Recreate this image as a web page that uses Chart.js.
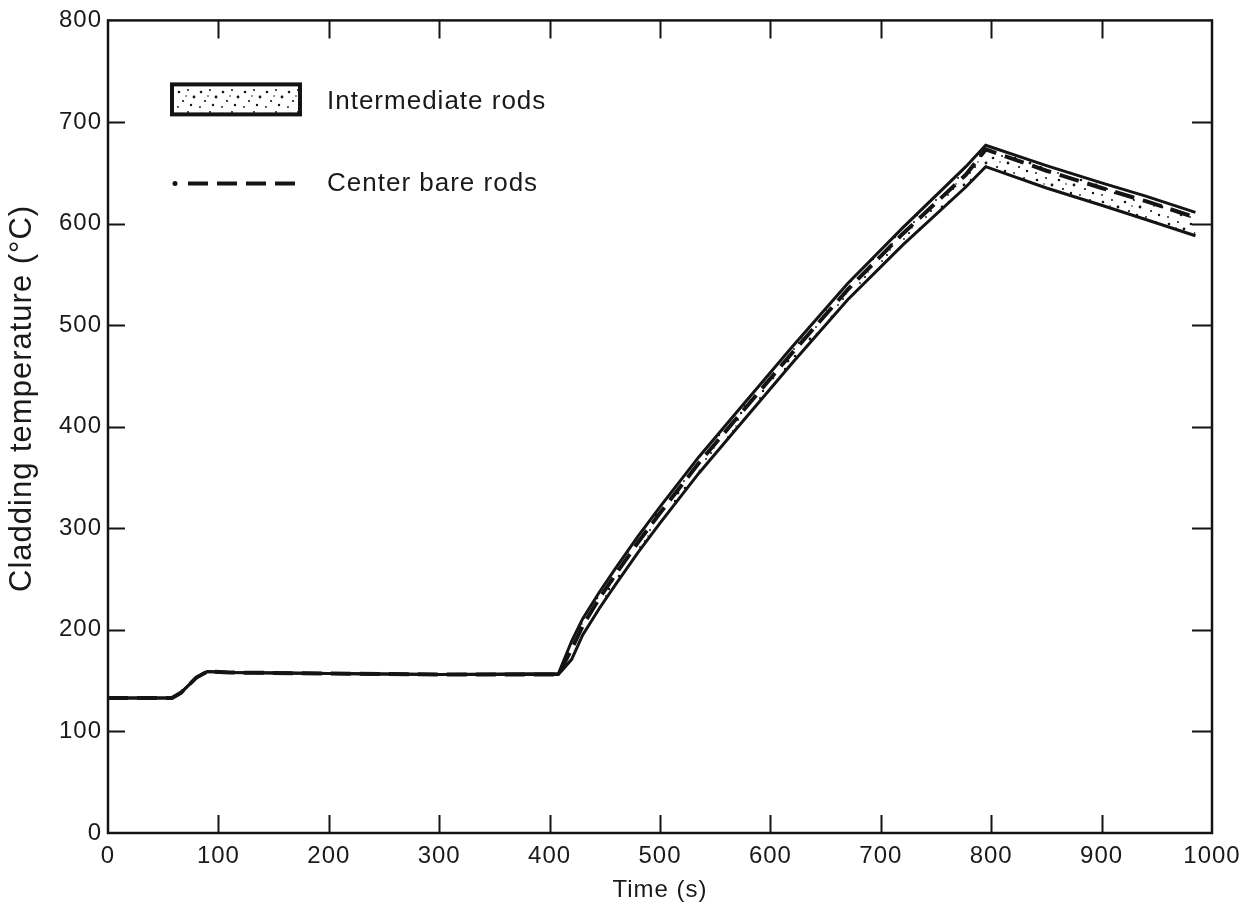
<!DOCTYPE html>
<html>
<head>
<meta charset="utf-8">
<script src="https://cdn.jsdelivr.net/npm/chart.js@4"></script>
<style>
  html, body { margin: 0; padding: 0; background: #ffffff; }
  #wrap { width: 1254px; height: 916px; }
</style>
</head>
<body>
<div id="wrap"><canvas id="chart" width="1254" height="916"></canvas></div>
<script>
// Cladding temperature history (°C) against time (s)
const timeSeconds = [0, 58, 66, 80, 90, 110, 200, 300, 408, 420, 430, 445, 460, 480, 500, 535, 570, 620, 670, 720, 777, 795, 850, 900, 940, 985];
const intermediateUpper = [133, 133, 138, 153, 159, 158, 157, 156, 157, 189, 211, 237, 261, 292, 321, 370, 415, 479, 541, 596, 656, 677, 657, 640, 627, 611];
const intermediateLower = [133, 133, 138, 153, 159, 158, 157, 156, 156, 171, 195, 221, 245, 276, 305, 354, 399, 463, 525, 579, 636, 656, 635, 618, 604, 588];
const centerBareRods   = [133, 133, 138, 153, 159, 158, 157, 156, 156, 181, 204, 231, 255, 286, 315, 364, 409, 473, 535, 590, 648, 673, 652, 635, 622, 606];

const seriesLabels = ['Intermediate rods', 'Center bare rods'];
const xTickValues = [0, 100, 200, 300, 400, 500, 600, 700, 800, 900, 1000];
const yTickValues = [0, 100, 200, 300, 400, 500, 600, 700, 800];
const axisTitles = { x: 'Time (s)', y: 'Cladding temperature (°C)' };

const INK = '#141414';
const TEXT = '#1a1a1a';
const FONT = "'Liberation Sans', Arial, sans-serif";

// Stippled fill used for the intermediate-rod band
function makeStipple() {
  const c = document.createElement('canvas');
  c.width = 22; c.height = 22;
  const g = c.getContext('2d');
  g.fillStyle = '#ffffff';
  g.fillRect(0, 0, 22, 22);
  g.fillStyle = INK;
  const dots = [[3, 4, 1.3], [12, 2, 1.0], [18, 9, 1.4], [7, 13, 1.1], [15, 17, 1.2], [2, 19, 0.9], [10, 8, 0.8]];
  dots.forEach(([x, y, r]) => { g.beginPath(); g.arc(x, y, r, 0, Math.PI * 2); g.fill(); });
  return g.createPattern(c, 'repeat');
}
const stipple = makeStipple();

const toPoints = (vals) => vals.map((v, i) => ({ x: timeSeconds[i], y: v }));

// Slightly open lettering, as in the typeset labels
const spacingPlugin = {
  id: 'spacing',
  beforeDraw(chart) { chart.ctx.letterSpacing = '1px'; }
};

// Frame around the plot plus inward tick marks on all four sides
const framePlugin = {
  id: 'frame',
  afterDatasetsDraw(chart) {
    const { ctx, chartArea: a, scales: { x, y } } = chart;
    ctx.save();
    ctx.strokeStyle = INK;
    ctx.lineWidth = 2.5;
    ctx.strokeRect(a.left, a.top, a.right - a.left, a.bottom - a.top);
    ctx.lineWidth = 2;
    ctx.beginPath();
    x.ticks.forEach(t => {
      if (t.value <= x.min || t.value >= x.max) return;
      const px = Math.round(x.getPixelForValue(t.value)) + 0.5;
      ctx.moveTo(px, a.bottom); ctx.lineTo(px, a.bottom - 18);
      ctx.moveTo(px, a.top); ctx.lineTo(px, a.top + 18);
    });
    y.ticks.forEach(t => {
      if (t.value <= y.min || t.value >= y.max) return;
      const py = Math.round(y.getPixelForValue(t.value)) + 0.5;
      ctx.moveTo(a.left, py); ctx.lineTo(a.left + 17, py);
      ctx.moveTo(a.right, py); ctx.lineTo(a.right - 20, py);
    });
    ctx.stroke();
    ctx.restore();
  }
};

// Vertical axis title, set a little above the middle of the plot
const yTitlePlugin = {
  id: 'yTitle',
  afterDraw(chart) {
    const { ctx, chartArea: a } = chart;
    ctx.save();
    ctx.translate(22, a.top + 378);
    ctx.rotate(-Math.PI / 2);
    ctx.fillStyle = TEXT;
    ctx.font = `31px ${FONT}`;
    ctx.textAlign = 'center';
    ctx.textBaseline = 'middle';
    ctx.fillText(axisTitles.y, 0, 0);
    ctx.restore();
  }
};

// Key in the upper-left corner of the plot
const keyPlugin = {
  id: 'key',
  afterDraw(chart) {
    const { ctx, chartArea: a } = chart;
    const band = chart.data.datasets[0];
    const dashed = chart.data.datasets[2];
    const x0 = a.left + 64, x1 = a.left + 192, tx = a.left + 219;
    ctx.save();
    // band swatch
    ctx.fillStyle = band.backgroundColor;
    ctx.fillRect(x0, a.top + 64, x1 - x0, 30);
    ctx.strokeStyle = INK;
    ctx.lineWidth = 4;
    ctx.strokeRect(x0, a.top + 64, x1 - x0, 30);
    // dashed swatch: a dot followed by dashes
    ctx.fillStyle = INK;
    ctx.beginPath();
    ctx.arc(x0 + 3, a.top + 163, 2.5, 0, Math.PI * 2);
    ctx.fill();
    ctx.lineWidth = dashed.borderWidth;
    ctx.setLineDash(dashed.borderDash);
    ctx.beginPath();
    ctx.moveTo(x0 + 16, a.top + 163);
    ctx.lineTo(x1, a.top + 163);
    ctx.stroke();
    ctx.setLineDash([]);
    // labels
    ctx.fillStyle = TEXT;
    ctx.font = `26px ${FONT}`;
    ctx.textBaseline = 'middle';
    ctx.textAlign = 'left';
    ctx.fillText(band.label, tx, a.top + 81);
    ctx.fillText(dashed.label, tx, a.top + 163);
    ctx.restore();
  }
};

new Chart(document.getElementById('chart'), {
  type: 'line',
  data: {
    datasets: [
      {
        label: seriesLabels[0],
        data: toPoints(intermediateUpper),
        borderColor: INK,
        borderWidth: 3,
        backgroundColor: stipple,
        fill: { target: 1 },
        pointRadius: 0,
        tension: 0,
        order: 2
      },
      {
        label: seriesLabels[0] + ' (lower)',
        data: toPoints(intermediateLower),
        borderColor: INK,
        borderWidth: 3,
        fill: false,
        pointRadius: 0,
        tension: 0,
        order: 1
      },
      {
        label: seriesLabels[1],
        data: toPoints(centerBareRods),
        borderColor: INK,
        borderWidth: 4,
        borderDash: [20, 9],
        fill: false,
        pointRadius: 0,
        tension: 0,
        order: 0
      }
    ]
  },
  options: {
    responsive: false,
    animation: false,
    layout: { padding: { left: 0, top: 20, right: 42, bottom: 0 } },
    plugins: {
      legend: { display: false },
      tooltip: { enabled: false },
      filler: { drawTime: 'beforeDatasetsDraw' }
    },
    scales: {
      x: {
        type: 'linear',
        min: 0,
        max: 1000,
        afterBuildTicks: (s) => { s.ticks = xTickValues.map(v => ({ value: v })); },
        afterFit: (s) => { s.height = 83; },
        grid: { display: false, drawTicks: false },
        border: { display: false },
        ticks: {
          color: TEXT,
          font: { family: FONT, size: 24 },
          padding: 9,
          maxRotation: 0,
          autoSkip: false,
          callback: (v) => String(v)
        },
        title: {
          display: true,
          text: axisTitles.x,
          color: TEXT,
          font: { family: FONT, size: 24 },
          padding: { top: 0, bottom: 11 }
        }
      },
      y: {
        type: 'linear',
        min: 0,
        max: 800,
        afterBuildTicks: (s) => { s.ticks = yTickValues.map(v => ({ value: v })); },
        afterFit: (s) => { s.width = 108; },
        grid: { display: false, drawTicks: false },
        border: { display: false },
        ticks: {
          color: TEXT,
          font: { family: FONT, size: 24 },
          padding: 6,
          autoSkip: false,
          callback: (v) => String(v)
        },
        title: { display: false }
      }
    }
  },
  plugins: [spacingPlugin, framePlugin, yTitlePlugin, keyPlugin]
});
</script>
</body>
</html>
